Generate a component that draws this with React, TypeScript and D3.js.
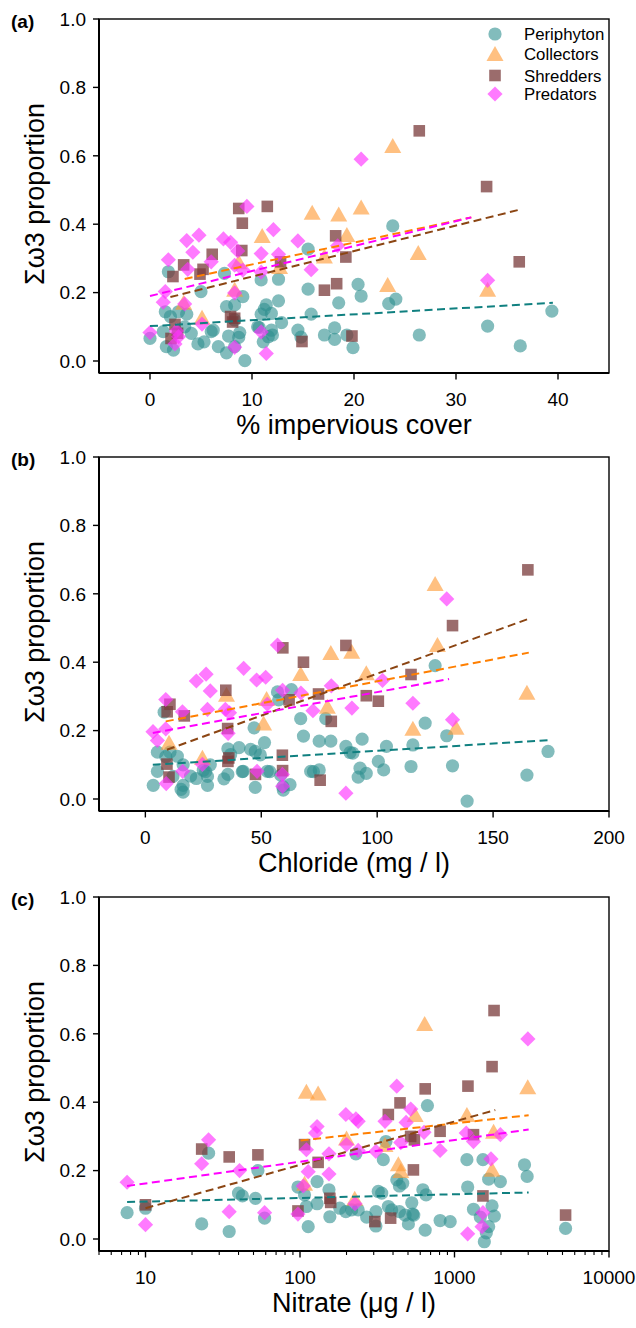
import React from 'react';
import * as d3 from 'd3';

type Pt = [number, number];

const groups = ['Periphyton', 'Collectors', 'Shredders', 'Predators'];
const yTicks = [0, 0.2, 0.4, 0.6, 0.8, 1.0];
const xTicksA = [0, 10, 20, 30, 40];
const xTicksB = [0, 50, 100, 150, 200];
const xTicksC = [10, 100, 1000, 10000];
const xTitles = ['% impervious cover', 'Chloride (mg / l)', 'Nitrate (\u03bcg / l)'];
const panelLabels = ['(a)', '(b)', '(c)'];

// ---------- Panel (a): % impervious cover ----------
const periA: Pt[] = [
  [0.0, 0.066], [1.3, 0.086], [1.6, 0.042], [2.3, 0.032], [3.4, 0.1], [4.05, 0.081], [4.7, 0.05], [5.3, 0.056],
  [6.0, 0.086], [6.2, 0.09], [6.7, 0.042], [7.5, 0.024], [7.7, 0.073], [8.3, 0.042], [8.7, 0.069], [8.8, 0.083],
  [9.3, 0.001], [10.55, 0.1], [11.1, 0.056], [11.9, 0.09], [11.6, 0.071], [14.5, 0.09], [14.8, 0.07],
  [1.5, 0.144], [2.8, 0.144], [3.6, 0.137], [2.0, 0.13], [7.5, 0.159], [9.1, 0.188], [8.3, 0.164], [11.4, 0.164],
  [11.2, 0.151], [12.6, 0.176], [11.9, 0.139], [10.9, 0.137], [8.3, 0.12], [12.9, 0.112], [15.8, 0.137],
  [1.8, 0.261], [5.0, 0.203], [10.9, 0.237], [12.6, 0.239], [15.5, 0.21], [15.5, 0.327], [7.3, 0.256],
  [23.8, 0.395], [39.4, 0.146], [33.1, 0.102], [36.3, 0.044], [26.4, 0.076], [24.1, 0.181], [23.4, 0.168],
  [20.7, 0.19], [20.4, 0.224], [18.5, 0.17], [19.9, 0.039], [18.1, 0.097], [17.1, 0.076], [18.1, 0.063],
  [19.3, 0.076], [10.7, 0.098], [12.0, 0.076],
];
const collA: Pt[] = [
  [23.8, 0.63], [15.9, 0.435], [18.5, 0.43], [20.7, 0.45], [11.0, 0.367], [19.3, 0.37], [17.1, 0.307],
  [26.3, 0.317], [23.3, 0.224], [33.1, 0.21], [8.7, 0.29], [8.3, 0.21], [3.3, 0.172], [5.1, 0.128], [12.7, 0.276],
];
const shredA: Pt[] = [
  [26.4, 0.673], [33.0, 0.51], [8.7, 0.446], [11.5, 0.452], [9.05, 0.403], [6.1, 0.312], [9.0, 0.323],
  [3.3, 0.281], [5.2, 0.268], [2.25, 0.247], [4.9, 0.254], [12.8, 0.29], [19.2, 0.304], [18.2, 0.366],
  [36.2, 0.29], [18.3, 0.226], [17.1, 0.207], [7.9, 0.13], [8.3, 0.125], [8.1, 0.114], [2.45, 0.107],
  [2.06, 0.066], [2.7, 0.081], [14.9, 0.057], [19.8, 0.073],
];
const predA: Pt[] = [
  [20.7, 0.59], [9.5, 0.452], [12.1, 0.384], [4.8, 0.368], [3.6, 0.352], [7.2, 0.357], [7.9, 0.347],
  [4.2, 0.318], [14.5, 0.351], [1.8, 0.296], [8.6, 0.322], [10.9, 0.314], [12.6, 0.312], [6.0, 0.29],
  [3.7, 0.268], [8.3, 0.28], [9.1, 0.266], [15.8, 0.267], [10.9, 0.26], [18.4, 0.337], [1.5, 0.203],
  [1.3, 0.172], [3.4, 0.167], [8.3, 0.199], [0.0, 0.083], [2.6, 0.088], [2.8, 0.071], [2.45, 0.05],
  [10.9, 0.085], [8.3, 0.04], [11.4, 0.022], [5.1, 0.108], [33.1, 0.236],
];
const fitPeriA: Pt[] = [[0, 0.102], [39.5, 0.17]];
const fitCollA: Pt[] = [[3.4, 0.24], [31.5, 0.42]];
const fitShredA: Pt[] = [[2.0, 0.187], [36.3, 0.443]];
const fitPredA: Pt[] = [[0, 0.19], [31.5, 0.42]];

// ---------- Panel (b): Chloride ----------
const periB: Pt[] = [
  [125, 0.39], [63, 0.32], [57.5, 0.29], [67, 0.235], [68.2, 0.184], [75, 0.169], [80, 0.169], [77.8, 0.235],
  [120.7, 0.222], [86.5, 0.154], [88.3, 0.136], [89.5, 0.134], [93.5, 0.175], [104, 0.154], [115.4, 0.158],
  [130, 0.185], [173.7, 0.139], [164.6, 0.07], [132.5, 0.097], [114.6, 0.095], [138.8, -0.006], [100.5, 0.11],
  [102.8, 0.085], [92.6, 0.09], [95.3, 0.075], [91.8, 0.064], [72.5, 0.08], [75, 0.085], [53.7, 0.08],
  [51.4, 0.165], [47.4, 0.139], [49.6, 0.129], [46.9, 0.208], [40.4, 0.15], [35.6, 0.147], [36.8, 0.13],
  [41.8, 0.08], [35.6, 0.072], [33.9, 0.059], [47.4, 0.034], [28, 0.1], [26, 0.08], [26.8, 0.066], [22, 0.06],
  [26.8, 0.04], [16.3, 0.1], [13.8, 0.125], [5.2, 0.137], [5.2, 0.081], [3.4, 0.04], [8.8, 0.124],
  [10.6, 0.137], [11.9, 0.066], [16.3, 0.04], [16.3, 0.02], [15.4, 0.028], [59.3, 0.036], [62.4, 0.042],
  [58.4, 0.07], [8.1, 0.254], [57, 0.313], [45.4, 0.145], [42.2, 0.081], [52.6, 0.081], [71.3, 0.081],
  [59.5, 0.026], [19.5, 0.067], [25, 0.084],
];
const collB: Pt[] = [
  [125, 0.63], [126, 0.452], [80, 0.428], [89, 0.432], [67, 0.367], [95.3, 0.369], [35, 0.306], [52.3, 0.294],
  [78.5, 0.271], [51, 0.222], [115.4, 0.207], [134, 0.21], [164.6, 0.312], [10.2, 0.166], [24.6, 0.122],
];
const shredB: Pt[] = [
  [165, 0.67], [132.5, 0.507], [59.3, 0.442], [86.5, 0.449], [68.2, 0.4], [114.6, 0.364], [34.7, 0.318],
  [95.3, 0.302], [100.5, 0.286], [74.7, 0.307], [62, 0.29], [80.2, 0.227], [10.6, 0.277], [9.4, 0.255],
  [16.8, 0.243], [35.5, 0.206], [36, 0.12], [35.6, 0.11], [59.1, 0.128], [59.2, 0.083], [9.3, 0.102],
  [10.2, 0.064], [47.5, 0.072], [75.4, 0.055],
];
const predB: Pt[] = [
  [130, 0.585], [57, 0.45], [42.4, 0.382], [26.2, 0.365], [22, 0.345], [48, 0.348], [51.9, 0.356], [28, 0.316],
  [8.8, 0.291], [26.8, 0.262], [34.5, 0.262], [59.2, 0.318], [67.1, 0.31], [72.3, 0.258], [80.2, 0.331],
  [89.1, 0.266], [102.3, 0.347], [115.4, 0.28], [132.5, 0.232], [3.3, 0.197], [5.2, 0.171], [8.8, 0.205],
  [16, 0.255], [36.3, 0.252], [35.7, 0.192], [16.1, 0.081], [24.6, 0.101], [9, 0.045], [48.2, 0.081],
  [59.1, 0.072], [59.2, 0.037], [86.5, 0.017], [52.6, 0.277],
];
const fitPeriB: Pt[] = [[3.2, 0.1], [173.7, 0.172]];
const fitCollB: Pt[] = [[8.8, 0.227], [165.4, 0.428]];
const fitShredB: Pt[] = [[9.3, 0.144], [165.4, 0.527]];
const fitPredB: Pt[] = [[3.2, 0.193], [131, 0.351]];

// ---------- Panel (c): Nitrate (log) ----------
const periC: Pt[] = [
  [7.6, 0.077], [10, 0.09], [23.1, 0.044], [25.6, 0.251], [34.8, 0.022], [40, 0.134], [42.4, 0.126],
  [51.5, 0.119], [53.4, 0.2], [59, 0.061], [97, 0.152], [107, 0.129], [113, 0.036], [110, 0.095], [129, 0.168],
  [129, 0.103], [154, 0.144], [156, 0.065], [181, 0.09], [198, 0.08], [216, 0.085], [238, 0.085], [230, 0.249],
  [270, 0.064], [310, 0.08], [310, 0.038], [321, 0.139], [338, 0.134], [346, 0.232], [360, 0.285], [373, 0.095],
  [392, 0.085], [423, 0.173], [440, 0.155], [462, 0.163], [440, 0.08], [479, 0.07], [503, 0.044], [529, 0.106],
  [537, 0.073], [545, 0.07], [624, 0.144], [655, 0.129], [646, 0.026], [668, 0.39], [807, 0.054], [938, 0.051],
  [1203, 0.232], [1217, 0.152], [1327, 0.087], [1528, 0.232], [1664, 0.175], [1981, 0.168], [1750, 0.097],
  [1810, 0.067], [1664, 0.036], [1607, 0.018], [1560, -0.008], [1469, 0.064], [2838, 0.217], [2953, 0.183],
  [5236, 0.031],
];
const collC: Pt[] = [
  [641, 0.63], [110, 0.432], [131, 0.427], [2979, 0.445], [556, 0.364], [1203, 0.364], [200, 0.295],
  [355, 0.276], [433, 0.22], [449, 0.2], [1791, 0.315], [1750, 0.204], [107, 0.163], [226, 0.119],
];
const shredC: Pt[] = [
  [1803, 0.668], [1750, 0.504], [646, 0.439], [1222, 0.447], [444, 0.398], [373, 0.364], [520, 0.3],
  [550, 0.29], [807, 0.315], [1327, 0.305], [107, 0.276], [131, 0.224], [23.1, 0.263], [34.8, 0.24],
  [53.4, 0.246], [542, 0.202], [156, 0.119], [158, 0.107], [10, 0.1], [97, 0.082], [305, 0.051], [386, 0.061],
  [1528, 0.126], [5236, 0.07],
];
const predC: Pt[] = [
  [2985, 0.585], [423, 0.447], [7.6, 0.166], [10, 0.042], [23.1, 0.22], [25.6, 0.29], [34.8, 0.08],
  [40.6, 0.2], [59, 0.077], [97, 0.073], [105, 0.155], [113, 0.197], [110, 0.261], [129, 0.329], [126, 0.31],
  [154, 0.249], [154, 0.19], [198, 0.364], [230, 0.351], [238, 0.344], [200, 0.276], [238, 0.259], [310, 0.256],
  [227, 0.103], [355, 0.344], [521, 0.38], [486, 0.341], [449, 0.282], [635, 0.312], [807, 0.259], [1191, 0.31],
  [1327, 0.285], [1981, 0.305], [1722, 0.234], [1528, 0.077], [1507, 0.036], [1217, 0.015],
];
const fitPeriC: Pt[] = [[7.6, 0.108], [3020, 0.136]];
const fitCollC: Pt[] = [[101, 0.288], [3020, 0.362]];
const fitShredC: Pt[] = [[10, 0.09], [1836, 0.377]];
const fitPredC: Pt[] = [[7.6, 0.155], [3020, 0.32]];

// ---------- styles ----------
const FONT = "'Liberation Sans', Arial, Helvetica, sans-serif";
const markerFill = ['#2f8f8f', '#ff9933', '#7a3b3b', '#ff33ff'];
const markerOpacity = [0.6, 0.62, 0.75, 0.65];
const lineColor = ['#108080', '#ff7f00', '#8b4513', '#ff00ff'];

const LEFT = 99;
const RIGHT = 609;
const TOPS = [19, 457, 897];
const UNIT = 342; // px from 0.0 to 1.0
const YMIN = -0.035;

function markerPath(kind: number, x: number, y: number): string {
  if (kind === 1) {
    const hw = 8.5, h = 7.5;
    return `M${x},${y - h}L${x + hw},${y + h}L${x - hw},${y + h}Z`;
  }
  if (kind === 2) {
    const s = 5.8;
    return `M${x - s},${y - s}H${x + s}V${y + s}H${x - s}Z`;
  }
  if (kind === 3) {
    const r = 7.6;
    return `M${x},${y - r}L${x + r},${y}L${x},${y + r}L${x - r},${y}Z`;
  }
  const r = 6.6;
  return `M${x - r},${y}A${r},${r} 0 1,0 ${x + r},${y}A${r},${r} 0 1,0 ${x - r},${y}Z`;
}

type PanelDef = {
  idx: number;
  series: Pt[][];
  fits: Pt[][];
  xScale: d3.ScaleContinuousNumeric<number, number>;
  xTicks: number[];
  minorTicks?: number[];
};

function Panel({ p }: { p: PanelDef }) {
  const top = TOPS[p.idx];
  const y = d3.scaleLinear().domain([YMIN, 1]).range([top + UNIT * (1 - YMIN), top]);
  const x = p.xScale;
  const bottom = y(YMIN);
  const line = d3.line<Pt>().x((d) => x(d[0])).y((d) => y(d[1]));
  return (
    <g>
      {p.series.map((pts, k) => (
        <g key={k} fill={markerFill[k]} fillOpacity={markerOpacity[k]} stroke="none">
          {pts.map((d, i) => (
            <path key={i} d={markerPath(k, x(d[0]), y(d[1]))} />
          ))}
        </g>
      ))}
      {p.fits.map((f, k) => (
        <path key={k} d={line(f) || ''} fill="none" stroke={lineColor[k]} strokeWidth={2}
          strokeDasharray="8,4.5" />
      ))}
      <rect x={LEFT} y={top} width={RIGHT - LEFT} height={bottom - top} fill="none" stroke="#000" strokeWidth={1.4} />
      <line x1={LEFT} x2={LEFT} y1={top} y2={bottom} stroke="#000" strokeWidth={2} />
      <line x1={LEFT} x2={RIGHT} y1={bottom} y2={bottom} stroke="#000" strokeWidth={2} />
      {yTicks.map((t) => (
        <g key={t}>
          <line x1={LEFT - 6} x2={LEFT} y1={y(t)} y2={y(t)} stroke="#000" strokeWidth={1.4} />
          <text x={86} y={y(t)} dy="0.36em" textAnchor="end" fontSize={19} fontFamily={FONT} fill="#000">
            {t.toFixed(1)}
          </text>
        </g>
      ))}
      {(p.minorTicks || []).map((t, i) => (
        <line key={'m' + i} x1={x(t)} x2={x(t)} y1={bottom} y2={bottom + 4} stroke="#000" strokeWidth={1.1} />
      ))}
      {p.xTicks.map((t) => (
        <g key={t}>
          <line x1={x(t)} x2={x(t)} y1={bottom} y2={bottom + 6.5} stroke="#000" strokeWidth={1.4} />
          <text x={x(t)} y={bottom + 33} textAnchor="middle" fontSize={19} fontFamily={FONT} fill="#000">
            {String(t)}
          </text>
        </g>
      ))}
      <text x={(LEFT + RIGHT) / 2} y={bottom + 61} textAnchor="middle" fontSize={27} fontFamily={FONT} fill="#000">
        {xTitles[p.idx]}
      </text>
      <text transform={`translate(44,${y(0.5) + 4}) rotate(-90)`} textAnchor="middle" fontSize={27}
        fontFamily={FONT} fill="#000">
        {'\u03a3\u03c93 proportion'}
      </text>
      <text x={11} y={y(1) + 9} fontSize={19} fontWeight="bold" fontFamily={FONT} fill="#000">
        {panelLabels[p.idx]}
      </text>
    </g>
  );
}

const legendRows = [34, 53.5, 75.5, 94];

export default function App() {
  const xA = d3.scaleLinear().domain([-5, 45]).range([LEFT, RIGHT]);
  const xB = d3.scaleLinear().domain([-20, 200]).range([LEFT, RIGHT]);
  const xC = d3.scaleLog().domain([5, 10000]).range([LEFT, RIGHT]);
  const minorC: number[] = [];
  [1, 10, 100, 1000].forEach((dec) => {
    for (let m = 2; m <= 9; m++) {
      const v = m * dec;
      if (v >= 5 && v <= 10000 && !xTicksC.includes(v)) minorC.push(v);
    }
  });
  const panels: PanelDef[] = [
    { idx: 0, series: [periA, collA, shredA, predA], fits: [fitPeriA, fitCollA, fitShredA, fitPredA], xScale: xA, xTicks: xTicksA },
    { idx: 1, series: [periB, collB, shredB, predB], fits: [fitPeriB, fitCollB, fitShredB, fitPredB], xScale: xB, xTicks: xTicksB },
    { idx: 2, series: [periC, collC, shredC, predC], fits: [fitPeriC, fitCollC, fitShredC, fitPredC], xScale: xC, xTicks: xTicksC, minorTicks: minorC },
  ];
  return (
    <svg width={636} height={1328} style={{ position: 'absolute', left: 0, top: 0, background: '#fff' }}>
      <rect x={0} y={0} width={636} height={1328} fill="#fff" />
      {panels.map((p) => (
        <Panel key={p.idx} p={p} />
      ))}
      {groups.map((g, k) => (
        <g key={g}>
          <path d={markerPath(k, 495, legendRows[k])} fill={markerFill[k]} fillOpacity={markerOpacity[k]} />
          <text x={524} y={legendRows[k]} dy="0.36em" fontSize={16.8} fontFamily={FONT} fill="#000">
            {g}
          </text>
        </g>
      ))}
    </svg>
  );
}
